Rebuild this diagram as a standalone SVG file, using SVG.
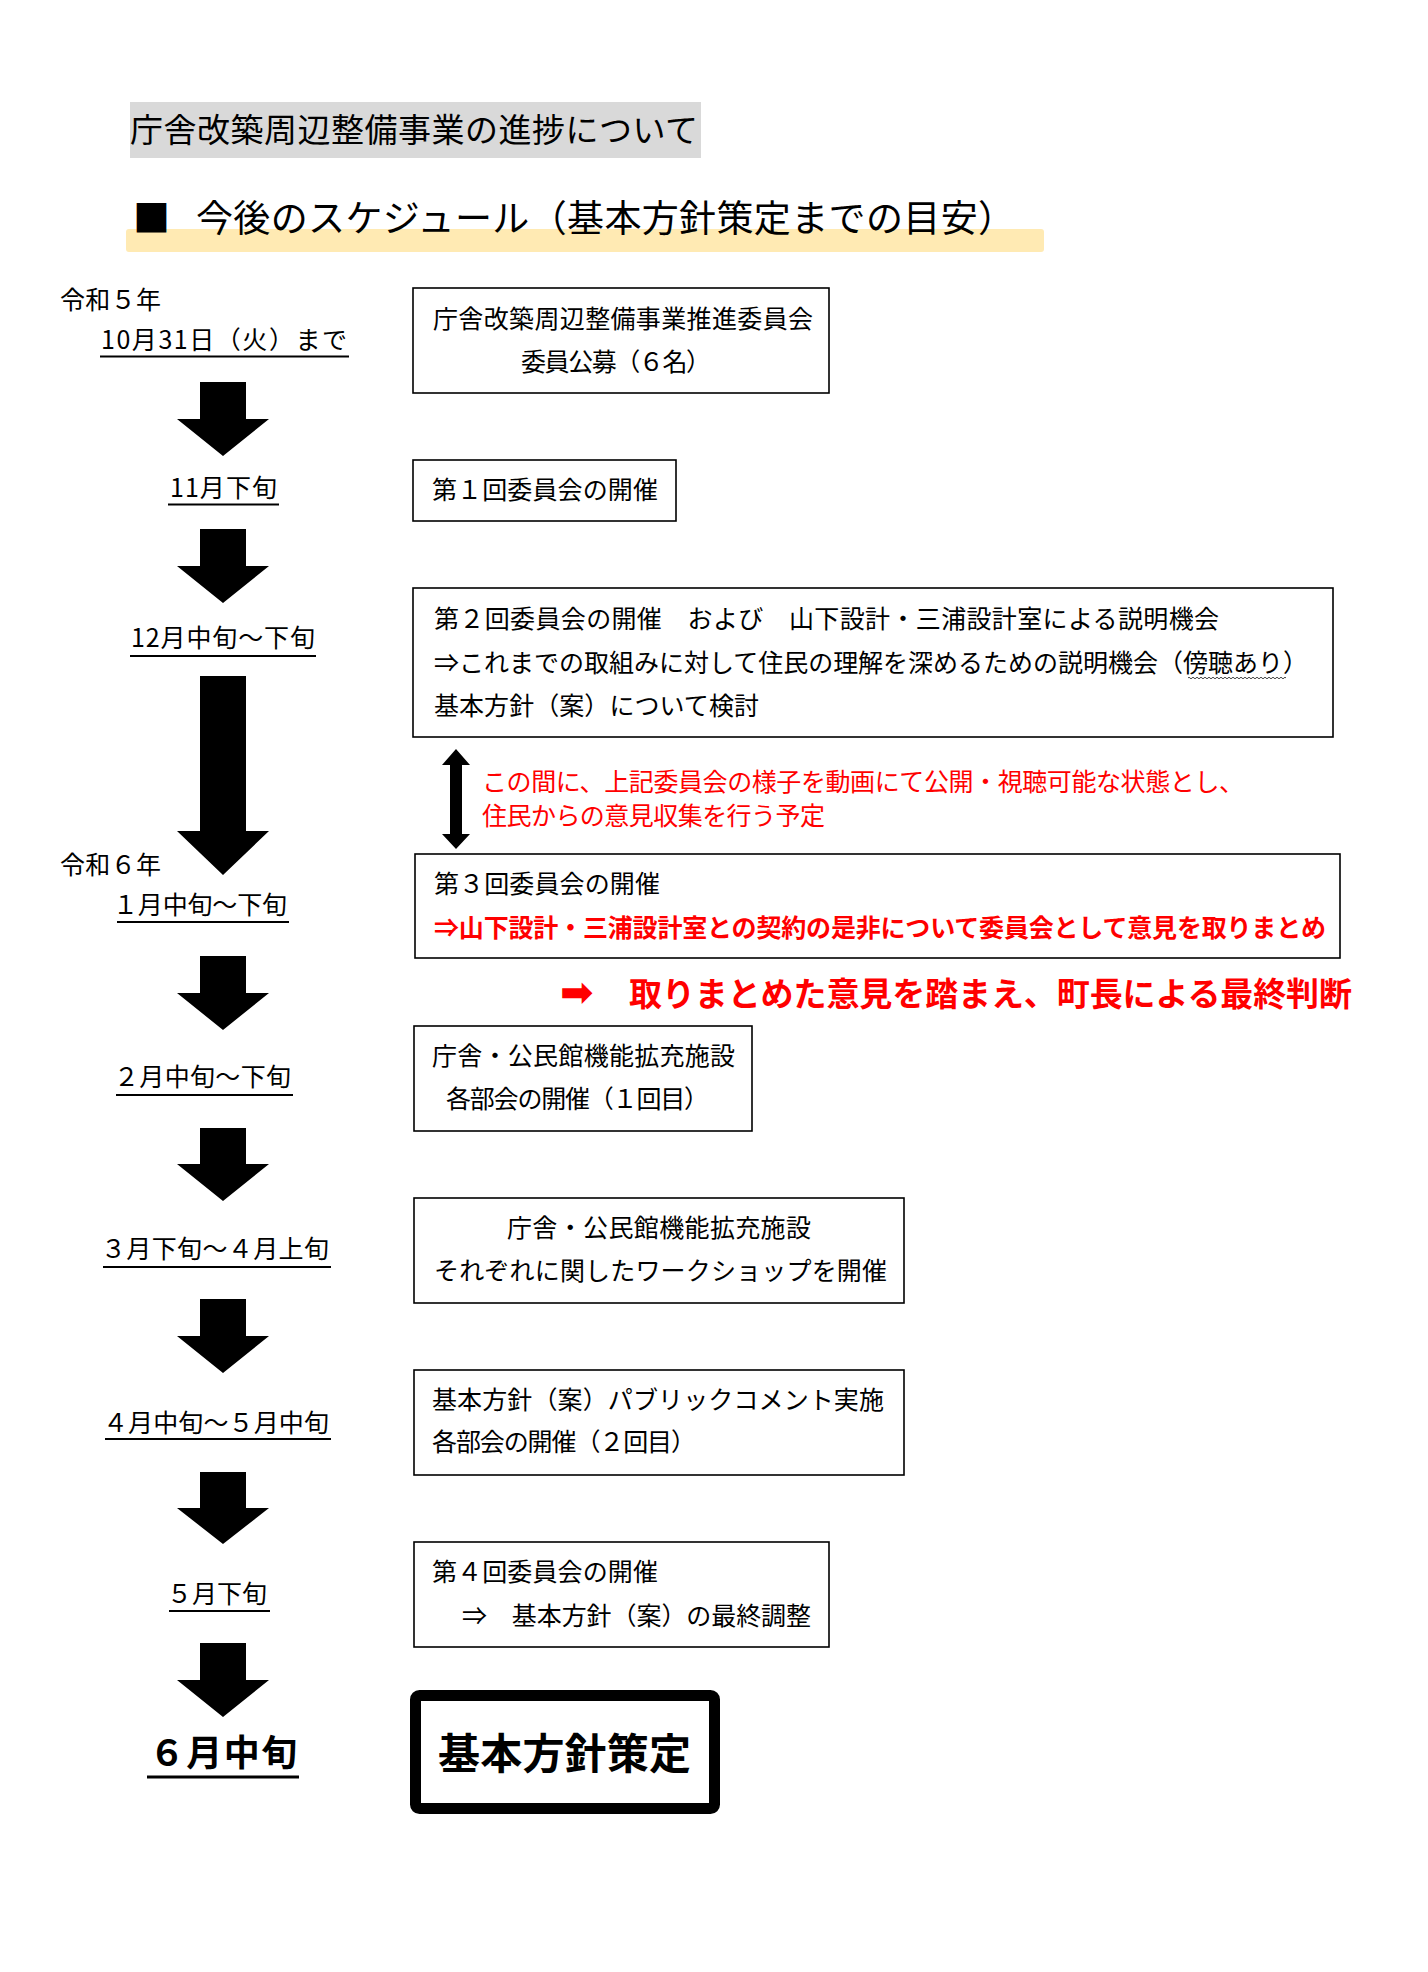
<svg xmlns="http://www.w3.org/2000/svg" width="1428" height="1972" viewBox="0 0 1428 1972">
<style>
text{font-family:"Noto Sans CJK JP","Noto Sans",sans-serif;fill:#000}
.t{font-size:25px}
.red{fill:#ff0000}
.box{fill:#fff;stroke:#000;stroke-width:1.6}
.ul{stroke:#000;stroke-width:2}
.arr{fill:#000}
</style>
<rect width="1428" height="1972" fill="#fff"/>
<g id="title">
<rect x="130" y="102" width="571" height="56" fill="#d9d9d9"/>
<text x="130" y="141.5" style="font-size:33px" textLength="568" lengthAdjust="spacing">庁舎改築周辺整備事業の進捗について</text>
</g>
<g id="heading">
<rect x="126" y="229" width="918" height="23" rx="3" fill="#ffeab3"/>
<text x="133" y="232" style="font-size:37px">■</text>
<text x="196" y="232" style="font-size:37px" textLength="819" lengthAdjust="spacing">今後のスケジュール（基本方針策定までの目安）</text>
</g>
<g id="labels">
<g id="l1"><text class="t" x="60" y="309" textLength="101" lengthAdjust="spacing">令和５年</text>
<text class="t" x="101" y="348.5" textLength="246" lengthAdjust="spacing">10月31日（火）まで</text>
<line class="ul" x1="100" y1="356.5" x2="349" y2="356.5"/></g>
<g id="l2"><text class="t" x="170" y="497" textLength="107" lengthAdjust="spacing">11月下旬</text>
<line class="ul" x1="168" y1="504.5" x2="279" y2="504.5"/></g>
<g id="l3"><text class="t" x="131" y="647" textLength="184" lengthAdjust="spacing">12月中旬～下旬</text>
<line class="ul" x1="130" y1="656" x2="316" y2="656"/></g>
<g id="l4"><text class="t" x="60" y="873.5" textLength="101" lengthAdjust="spacing">令和６年</text>
<text class="t" x="113" y="914" textLength="174" lengthAdjust="spacing">１月中旬～下旬</text>
<line class="ul" x1="117" y1="922" x2="289" y2="922"/></g>
<g id="l5"><text class="t" x="114" y="1086" textLength="177" lengthAdjust="spacing">２月中旬～下旬</text>
<line class="ul" x1="116" y1="1095" x2="293" y2="1095"/></g>
<g id="l6"><text class="t" x="101" y="1258" textLength="228" lengthAdjust="spacing">３月下旬～４月上旬</text>
<line class="ul" x1="103" y1="1267" x2="331" y2="1267"/></g>
<g id="l7"><text class="t" x="103" y="1432" textLength="226" lengthAdjust="spacing">４月中旬～５月中旬</text>
<line class="ul" x1="105" y1="1439" x2="331" y2="1439"/></g>
<g id="l8"><text class="t" x="167" y="1603" textLength="100" lengthAdjust="spacing">５月下旬</text>
<line class="ul" x1="169" y1="1611" x2="270" y2="1611"/></g>
<g id="l9"><text x="149" y="1766" style="font-size:36px;font-weight:bold" textLength="148" lengthAdjust="spacing">６月中旬</text>
<line x1="147" y1="1777" x2="299" y2="1777" stroke="#000" stroke-width="3"/></g>
</g>
<g id="connectors">
<path class="arr" d="M200,382H246V419H269L223,456L177,419H200Z"/>
<path class="arr" d="M200,529H246V566H269L223,603L177,566H200Z"/>
<path class="arr" d="M200,676H246V831H269L223,875L177,831H200Z"/>
<path class="arr" d="M200,956H246V993H269L223,1030L177,993H200Z"/>
<path class="arr" d="M200,1128H246V1164H269L223,1201L177,1164H200Z"/>
<path class="arr" d="M200,1299H246V1336H269L223,1373L177,1336H200Z"/>
<path class="arr" d="M200,1472H246V1508H269L223,1544L177,1508H200Z"/>
<path class="arr" d="M200,1643H246V1680H269L223,1717L177,1680H200Z"/>
<path class="arr" d="M456,749L470,765H462V834H470L456,849L442,834H450V765H442Z"/>
</g>
<g id="b1"><rect class="box" x="413" y="288" width="416" height="105"/>
<text class="t" x="433" y="327.5" textLength="380" lengthAdjust="spacing">庁舎改築周辺整備事業推進委員会</text>
<text class="t" x="521" y="370.5" textLength="190" lengthAdjust="spacing">委員公募（６名）</text></g>
<g id="b2"><rect class="box" x="413" y="460" width="263" height="61"/>
<text class="t" x="432" y="499" textLength="226" lengthAdjust="spacing">第１回委員会の開催</text></g>
<g id="b3"><rect class="box" x="413" y="588" width="920" height="149"/>
<text class="t" x="434" y="628" textLength="785" lengthAdjust="spacing">第２回委員会の開催　および　山下設計・三浦設計室による説明機会</text>
<text class="t" x="434" y="672" textLength="874" lengthAdjust="spacing">⇒これまでの取組みに対して住民の理解を深めるための説明機会（傍聴あり）</text>
<path d="M1188,678q1,-1.6 2,0t2,0t2,0t2,0t2,0t2,0t2,0t2,0t2,0t2,0t2,0t2,0t2,0t2,0t2,0t2,0t2,0t2,0t2,0t2,0t2,0t2,0t2,0t2,0t2,0t2,0t2,0t2,0t2,0t2,0t2,0t2,0t2,0t2,0t2,0t2,0t2,0t2,0t2,0t2,0t2,0t2,0t2,0t2,0t2,0t2,0t2,0t2,0t2,0" fill="none" stroke="#444" stroke-width="1"/>
<text class="t" x="434" y="715" textLength="325" lengthAdjust="spacing">基本方針（案）について検討</text></g>
<g id="note">
<text class="t red" x="482" y="790.5" textLength="762" lengthAdjust="spacing">この間に、上記委員会の様子を動画にて公開・視聴可能な状態とし、</text>
<text class="t red" x="482" y="824.5" textLength="343" lengthAdjust="spacing">住民からの意見収集を行う予定</text>
</g>
<g id="b4"><rect class="box" x="415" y="854" width="925" height="104"/>
<text class="t" x="434" y="893" textLength="226" lengthAdjust="spacing">第３回委員会の開催</text>
<text class="t red" x="434" y="937" style="font-weight:bold" textLength="892" lengthAdjust="spacing">⇒山下設計・三浦設計室との契約の是非について委員会として意見を取りまとめ</text></g>
<g id="judgement">
<text x="560" y="1006" style="font-family:'DejaVu Sans',sans-serif;font-size:40px;font-weight:bold;fill:#ff0000">➡</text>
<text class="red" x="629" y="1005.5" style="font-size:33px;font-weight:bold" textLength="723" lengthAdjust="spacing">取りまとめた意見を踏まえ、町長による最終判断</text>
</g>
<g id="b5"><rect class="box" x="414" y="1026" width="338" height="105"/>
<text class="t" x="432" y="1065" textLength="303" lengthAdjust="spacing">庁舎・公民館機能拡充施設</text>
<text class="t" x="446" y="1108" textLength="263" lengthAdjust="spacing">各部会の開催（１回目）</text></g>
<g id="b6"><rect class="box" x="414" y="1198" width="490" height="105"/>
<text class="t" x="507" y="1236.5" textLength="304" lengthAdjust="spacing">庁舎・公民館機能拡充施設</text>
<text class="t" x="434" y="1280" textLength="453" lengthAdjust="spacing">それぞれに関したワークショップを開催</text></g>
<g id="b7"><rect class="box" x="414" y="1370" width="490" height="105"/>
<text class="t" x="432" y="1409" textLength="452" lengthAdjust="spacing">基本方針（案）パブリックコメント実施</text>
<text class="t" x="432" y="1451" textLength="264" lengthAdjust="spacing">各部会の開催（２回目）</text></g>
<g id="b8"><rect class="box" x="414" y="1542" width="415" height="105"/>
<text class="t" x="432" y="1581" textLength="226" lengthAdjust="spacing">第４回委員会の開催</text>
<text class="t" x="462" y="1625" textLength="349" lengthAdjust="spacing">⇒　基本方針（案）の最終調整</text></g>
<g id="b9"><rect x="415.5" y="1695.5" width="299" height="113" rx="4" fill="#fff" stroke="#000" stroke-width="11"/>
<text x="438" y="1769" style="font-size:42px;font-weight:bold" textLength="253" lengthAdjust="spacing">基本方針策定</text></g>
</svg>
